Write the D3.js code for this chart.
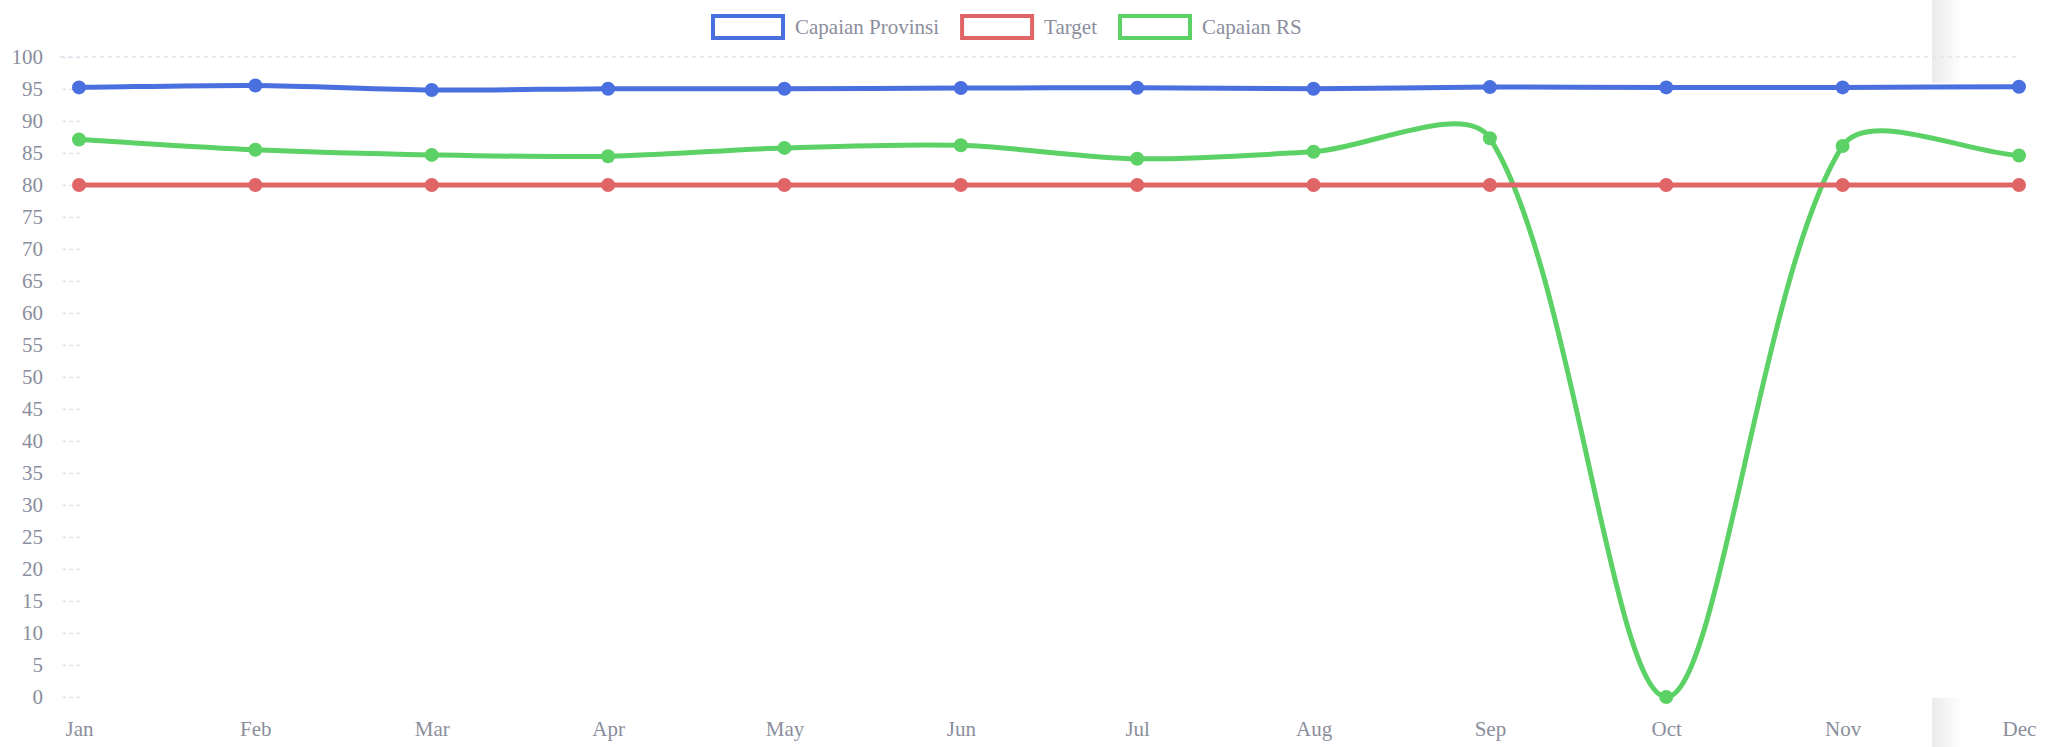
<!DOCTYPE html>
<html lang="en">
<head>
    <meta charset="UTF-8">
    <script src="https://d3js.org/d3.v7.min.js"></script>
    <title>Capaian</title>
    <style>
        body { margin: 0; background: #fff; }
        svg { display: block; }
    </style>
</head>
<body>
<div id="viz"></div>
<script>
    // data
    const months = ["Jan", "Feb", "Mar", "Apr", "May", "Jun", "Jul", "Aug", "Sep", "Oct", "Nov", "Dec"];
    const capaianProvinsi = [95.25, 95.55, 94.85, 95.05, 95.05, 95.15, 95.2, 95.05, 95.3, 95.25, 95.25, 95.35];
    const target = [80, 80, 80, 80, 80, 80, 80, 80, 80, 80, 80, 80];
    const capaianRS = [87.1, 85.5, 84.7, 84.5, 85.8, 86.2, 84.1, 85.2, 87.3, 0, 86.1, 84.6];
    const yTicks = d3.range(0, 101, 5);

    const series = [
        {name: "Capaian Provinsi", values: capaianProvinsi, color: "#4a6fdf"},
        {name: "Target", values: target, color: "#e06567"},
        {name: "Capaian RS", values: capaianRS, color: "#5cd165"}
    ];

    const W = 2045, H = 747;
    const area = {left: 79, right: 2019, top: 57, bottom: 697};
    const font = "'Liberation Serif', 'Times New Roman', serif";
    const labelColor = "#8b8e9d";

    const svg = d3.select("#viz")
        .append("svg")
        .attr("width", W)
        .attr("height", H);

    // faint shadow strip on the right (page background)
    const defs = svg.append("defs");
    const grad = defs.append("linearGradient").attr("id", "shade");
    grad.append("stop").attr("offset", "0%").attr("stop-color", "#ebebeb");
    grad.append("stop").attr("offset", "100%").attr("stop-color", "#ffffff");
    svg.append("rect").attr("x", 1932).attr("y", 0).attr("width", 30).attr("height", 83).attr("fill", "url(#shade)");
    svg.append("rect").attr("x", 1932).attr("y", 698).attr("width", 30).attr("height", 49).attr("fill", "url(#shade)");

    const x = d3.scalePoint()
        .domain(months)
        .range([area.left, area.right]);

    const y = d3.scaleLinear()
        .domain([0, 100])
        .range([area.bottom, area.top]);

    // top gridline
    svg.append("line")
        .attr("x1", 60).attr("x2", area.right)
        .attr("y1", y(100)).attr("y2", y(100))
        .attr("stroke", "#e2e4ee")
        .attr("stroke-width", 1.5)
        .attr("stroke-dasharray", "4,4");

    // y axis
    const yAxis = svg.append("g")
        .attr("transform", `translate(80, 0)`)
        .call(d3.axisLeft(y).tickValues(yTicks).tickSize(20).tickPadding(17));
    yAxis.select(".domain").remove();
    yAxis.selectAll(".tick line")
        .attr("stroke", "#e2e4ee")
        .attr("stroke-width", 1.5)
        .attr("stroke-dasharray", "4,3");
    yAxis.selectAll(".tick text")
        .attr("fill", labelColor)
        .style("font-family", font)
        .style("font-size", "21px");

    // x axis
    const xAxis = svg.append("g")
        .attr("transform", `translate(0, ${area.bottom})`)
        .call(d3.axisBottom(x).tickSize(0).tickPadding(24));
    xAxis.select(".domain").remove();
    xAxis.selectAll(".tick text")
        .attr("fill", labelColor)
        .style("font-family", font)
        .style("font-size", "21px");

    // spline like chart.js (capped to chart area)
    function splinePath(pts, t) {
        const cps = pts.map((cur, i) => {
            const prev = pts[i - 1] || cur;
            const next = pts[i + 1] || cur;
            const d01 = Math.hypot(cur[0] - prev[0], cur[1] - prev[1]);
            const d12 = Math.hypot(next[0] - cur[0], next[1] - cur[1]);
            let s01 = d01 / (d01 + d12);
            let s12 = d12 / (d01 + d12);
            s01 = isNaN(s01) ? 0 : s01;
            s12 = isNaN(s12) ? 0 : s12;
            const fa = t * s01, fb = t * s12;
            const clampX = v => Math.max(area.left, Math.min(area.right, v));
            const clampY = v => Math.max(area.top, Math.min(area.bottom, v));
            return {
                prev: [clampX(cur[0] - fa * (next[0] - prev[0])), clampY(cur[1] - fa * (next[1] - prev[1]))],
                next: [clampX(cur[0] + fb * (next[0] - prev[0])), clampY(cur[1] + fb * (next[1] - prev[1]))]
            };
        });
        const p = d3.path();
        p.moveTo(pts[0][0], pts[0][1]);
        for (let i = 1; i < pts.length; i++) {
            p.bezierCurveTo(cps[i - 1].next[0], cps[i - 1].next[1], cps[i].prev[0], cps[i].prev[1], pts[i][0], pts[i][1]);
        }
        return p.toString();
    }

    // draw datasets, first dataset on top
    series.slice().reverse().forEach(s => {
        const pts = s.values.map((v, i) => [x(months[i]), y(v)]);
        const g = svg.append("g");
        g.append("path")
            .attr("d", splinePath(pts, 0.3))
            .attr("fill", "none")
            .attr("stroke", s.color)
            .attr("stroke-width", 5);
        g.selectAll("circle")
            .data(pts)
            .join("circle")
            .attr("cx", d => d[0])
            .attr("cy", d => d[1])
            .attr("r", 7)
            .attr("fill", s.color);
    });

    // legend
    const legend = svg.append("g");
    let lx = 711;
    series.forEach(s => {
        legend.append("rect")
            .attr("x", lx + 2).attr("y", 16)
            .attr("width", 70).attr("height", 22)
            .attr("fill", "#fff")
            .attr("stroke", s.color)
            .attr("stroke-width", 4);
        const txt = legend.append("text")
            .attr("x", lx + 84)
            .attr("y", 34)
            .attr("fill", labelColor)
            .style("font-family", font)
            .style("font-size", "21px")
            .text(s.name);
        lx = lx + 84 + txt.node().getComputedTextLength() + 21;
    });
</script>
</body>
</html>
